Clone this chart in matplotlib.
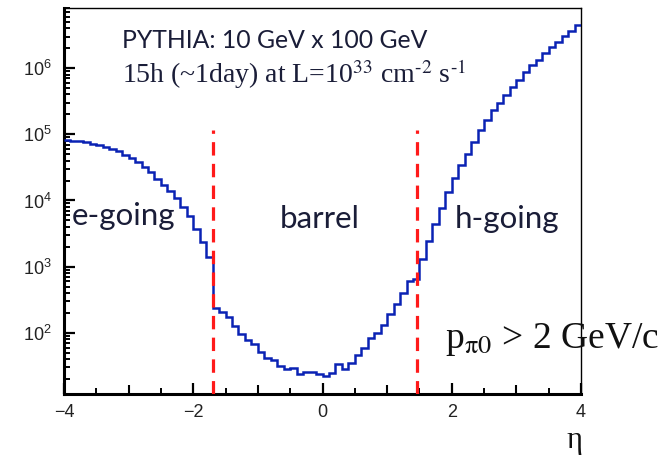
import numpy as np
import matplotlib
matplotlib.use("Agg")
import matplotlib.pyplot as plt
from matplotlib.ticker import LogLocator, FixedLocator, NullFormatter

# ---- data ----
eta_edges = np.round(np.arange(-4.0, 4.0001, 0.1), 2)
counts = [
    81000, 80000, 78000, 76000, 72000, 68000, 64000, 59000, 55000, 49000,
    43500, 38000, 32000, 27000, 21300, 17000, 13700, 10800, 7900, 5800,
    3700, 2350, 1400,
    235, 205, 175, 125, 95, 78, 67, 51, 42, 39, 32, 28, 29, 24, 26, 26, 24,
    22, 25, 34, 28, 35, 47, 60, 83, 100, 131, 192, 271, 405, 600, 650,
    1320, 2450, 4450, 7800, 13500, 22000, 34000, 51000, 76000, 115000,
    163000, 230000, 297000, 390000, 520000, 670000, 880000, 1110000,
    1320000, 1710000, 2060000, 2450000, 3050000, 3700000, 4500000,
]
boundaries = [-1.7, 1.47]
boundary_top = 1.15e5
x_ticks = [-4, -2, 0, 2, 4]
x_range = (-4, 4)
y_range = (11.9, 8.1e6)

plt.rcParams["mathtext.fontset"] = "custom"
plt.rcParams["mathtext.rm"] = "Liberation Sans"
plt.rcParams["mathtext.it"] = "Liberation Sans:italic"

W, H = 664, 459
fig = plt.figure(figsize=(W / 100, H / 100), dpi=100)
ax = fig.add_axes([64 / W, 1 - 394 / H, (581 - 64) / W, (394 - 8) / H])

ax.stairs(counts, eta_edges, baseline=None, color="#0a22b4", lw=1.8, zorder=3)
ax.vlines(boundaries, y_range[0], boundary_top, colors="#ff1a1a", lw=2.3,
          linestyles=(0, (4.2, 2.6)), zorder=4)

ax.set_yscale("log")
ax.set_xlim(*x_range)
ax.set_ylim(*y_range)

ax.xaxis.set_major_locator(FixedLocator(x_ticks))
ax.xaxis.set_minor_locator(FixedLocator(np.arange(-3.5, 4, 0.5)))
ax.yaxis.set_major_locator(LogLocator(base=10, numticks=10))
ax.yaxis.set_minor_locator(LogLocator(base=10, subs=np.arange(2, 10), numticks=20))
ax.yaxis.set_minor_formatter(NullFormatter())
ax.tick_params(axis="both", which="major", direction="in", length=8, width=1.6,
               labelsize=13, top=False, right=False, colors="black",
               labelcolor="#222222")
ax.tick_params(axis="x", which="major", pad=7)
ax.tick_params(axis="y", which="major", pad=9)
ax.tick_params(axis="both", which="minor", direction="in", length=4.5, width=1.4,
               top=False, right=False)
for lab in ax.get_xticklabels() + ax.get_yticklabels():
    lab.set_fontfamily("Liberation Sans")
for s in ["left", "bottom"]:
    ax.spines[s].set_linewidth(2.2)
for s in ["top", "right"]:
    ax.spines[s].set_linewidth(1.0)

sec = ax.secondary_xaxis("bottom")
sec.xaxis.set_major_locator(FixedLocator([-3, -1, 1, 3]))
sec.tick_params(direction="in", length=6.5, width=1.5, labelbottom=False)
sec.spines["bottom"].set_visible(False)

def fx(px):
    return px / W

def fy(py):
    return 1 - py / H

txt_dark = "#1a1d38"
fig.text(fx(122), fy(48), "PYTHIA: 10 GeV x 100 GeV", family="Lato",
         fontsize=17.8, color=txt_dark, va="baseline")
fig.text(fx(122), fy(83),
         "15h (~1day) at L=10$^{\\mathrm{33}}$ cm$^{\\mathrm{\u20102}}$ s$^{\\mathrm{\u20101}}$",
         family="Liberation Serif", fontsize=20, color=txt_dark, va="baseline",
         math_fontfamily="stix")
fig.text(fx(72), fy(225), "e-going", family="Lato", fontsize=22.5,
         color=txt_dark, va="baseline")
fig.text(fx(280), fy(228), "barrel", family="Lato", fontsize=22.5,
         color=txt_dark, va="baseline")
fig.text(fx(455), fy(228), "h-going", family="Lato", fontsize=22.5,
         color=txt_dark, va="baseline")
fig.text(fx(445), fy(348), "p$_{\\mathrm{\u03c00}}$ > 2 GeV/c",
         family="Liberation Serif", fontsize=27, color="#111111",
         va="baseline", math_fontfamily="stix")
fig.text(fx(566), fy(448), "η", family="Liberation Serif", fontsize=22,
         color="#111111", va="baseline")

fig.savefig("out.png", dpi=100)
